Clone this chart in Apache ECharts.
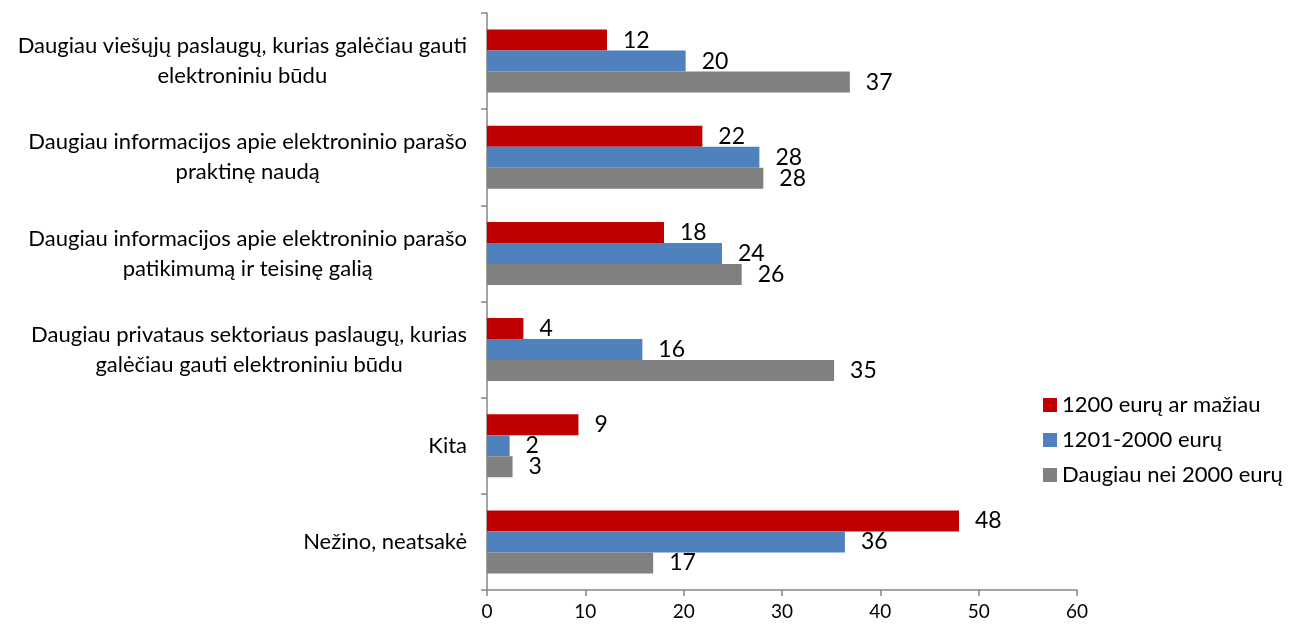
<!DOCTYPE html>
<html>
<head>
<meta charset="utf-8">
<script src="https://cdn.jsdelivr.net/npm/echarts@6/dist/echarts.min.js"></script>
<style>
html,body{margin:0;padding:0;background:#fff;}
#chart{width:1293px;height:628px;}
</style>
</head>
<body>
<div id="chart"></div>
<script>
var categories = [
  "Daugiau viešųjų paslaugų, kurias galėčiau gauti\nelektroniniu būdu",
  "Daugiau informacijos apie elektroninio parašo\npraktinę naudą",
  "Daugiau informacijos apie elektroninio parašo\npatikimumą ir teisinę galią",
  "Daugiau privataus sektoriaus paslaugų, kurias\ngalėčiau gauti elektroniniu būdu",
  "Kita",
  "Nežino, neatsakė"
];
var seriesNames = ["1200 eurų ar mažiau", "1201-2000 eurų", "Daugiau nei 2000 eurų"];
var valuesLow = [12.2, 21.9, 18.0, 3.7, 9.3, 48.0];
var valuesMid = [20.2, 27.7, 23.9, 15.8, 2.3, 36.4];
var valuesHigh = [36.9, 28.1, 25.9, 35.3, 2.6, 16.9];
var xTicks = [0, 10, 20, 30, 40, 50, 60];

var colors = ["#C00000", "#4F81BD", "#808080"];
var FONT = "Lato";

function mkSeries(name, data, color) {
  return {
    name: name,
    type: "bar",
    data: data,
    barWidth: 21,
    barGap: "0%",
    itemStyle: { color: color },
    label: {
      show: true,
      position: "right",
      distance: 16,
      color: "#000",
      fontFamily: FONT,
      fontSize: 23,
      formatter: function (p) { return String(Math.round(p.value)); }
    }
  };
}

var chart = echarts.init(document.getElementById("chart"), null, { renderer: "canvas" });
chart.setOption({
  animation: false,
  color: colors,
  textStyle: { fontFamily: FONT },
  grid: { left: 487, right: 216, top: 13, bottom: 38, containLabel: false },
  legend: {
    orient: "vertical",
    left: 1038,
    top: 389,
    icon: "rect",
    itemWidth: 14,
    itemHeight: 14,
    itemGap: 13,
    textStyle: { fontFamily: FONT, fontSize: 22, color: "#000", lineHeight: 22 },
    data: seriesNames
  },
  xAxis: {
    type: "value",
    min: xTicks[0],
    max: xTicks[xTicks.length - 1],
    interval: 10,
    splitLine: { show: false },
    axisLine: { show: true, lineStyle: { color: "#868686", width: 1.5 } },
    axisTick: { show: true, length: 6, lineStyle: { color: "#868686", width: 1.5 } },
    axisLabel: { color: "#000", fontFamily: FONT, fontSize: 19, margin: 12 }
  },
  yAxis: {
    type: "category",
    inverse: true,
    data: categories,
    axisLine: { show: true, lineStyle: { color: "#868686", width: 1.5 } },
    axisTick: { show: true, length: 6, lineStyle: { color: "#868686", width: 1.5 } },
    axisLabel: {
      margin: 20,
      align: "right",
      formatter: function (v) { return "{c|" + v.split("\n").join("}\n{c|") + "}"; },
      rich: {
        c: { align: "center", fontFamily: FONT, fontSize: 22, color: "#000", lineHeight: 30 }
      }
    }
  },
  series: [
    mkSeries(seriesNames[0], valuesLow, colors[0]),
    mkSeries(seriesNames[1], valuesMid, colors[1]),
    mkSeries(seriesNames[2], valuesHigh, colors[2])
  ]
});
</script>
</body>
</html>
